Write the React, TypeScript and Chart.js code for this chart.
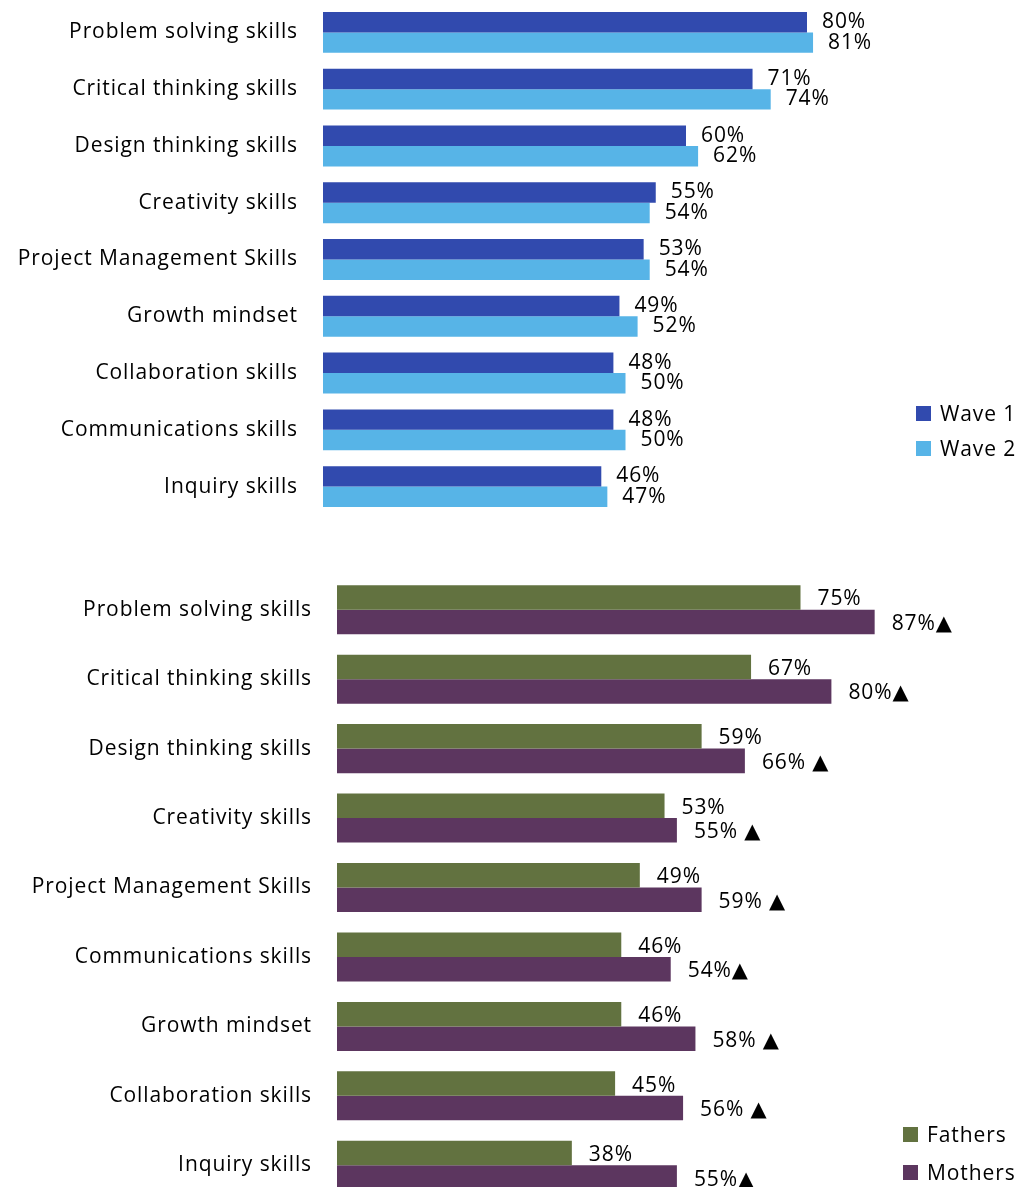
import React, { useEffect, useRef } from "react";
import { Chart, registerables } from "chart.js";
Chart.register(...registerables);

const FONT = "'Open Sans', 'DejaVu Sans', sans-serif";
const FONT_SIZE = 21;
const LETTER_SPACING = "0.9px";

const waveCategories = [
  "Problem solving skills",
  "Critical thinking skills",
  "Design thinking skills",
  "Creativity skills",
  "Project Management Skills",
  "Growth mindset",
  "Collaboration skills",
  "Communications skills",
  "Inquiry skills",
];
const wave1Values = [80, 71, 60, 55, 53, 49, 48, 48, 46];
const wave2Values = [81, 74, 62, 54, 54, 52, 50, 50, 47];

const parentCategories = [
  "Problem solving skills",
  "Critical thinking skills",
  "Design thinking skills",
  "Creativity skills",
  "Project Management Skills",
  "Communications skills",
  "Growth mindset",
  "Collaboration skills",
  "Inquiry skills",
];
const fathersValues = [75, 67, 59, 53, 49, 46, 46, 45, 38];
const mothersValues = [87, 80, 66, 55, 59, 54, 58, 56, 55];
const mothersMarks = ["▲", "▲", " ▲", " ▲", " ▲", "▲", " ▲", " ▲", "▲"];

const COLORS = {
  wave1: "#314AAE",
  wave2: "#57B4E7",
  fathers: "#627240",
  mothers: "#5C365F",
};

const spacingPlugin = {
  id: "letterSpacing",
  beforeUpdate(chart: any) {
    (chart.ctx as any).letterSpacing = LETTER_SPACING;
  },
  beforeDraw(chart: any) {
    (chart.ctx as any).letterSpacing = LETTER_SPACING;
  },
};

const labelPlugin = {
  id: "valueLabels",
  afterDatasetsDraw(chart: any, _args: any, opts: any) {
    const ctx = chart.ctx;
    ctx.save();
    (ctx as any).letterSpacing = LETTER_SPACING;
    ctx.font = `${opts.size}px ${FONT}`;
    ctx.fillStyle = "#000";
    ctx.textBaseline = "middle";
    ctx.textAlign = "left";
    chart.data.datasets.forEach((ds: any, di: number) => {
      const meta = chart.getDatasetMeta(di);
      meta.data.forEach((el: any, i: number) => {
        const v = ds.data[i];
        const suffix = (opts.suffixes && opts.suffixes[di] && opts.suffixes[di][i]) || "";
        const text = `${v}%${suffix}`;
        const w = ctx.measureText(text).width;
        let x = el.x + opts.offset;
        if (opts.maxRight && x + w > opts.maxRight) x = Math.max(el.x + 2, opts.maxRight - w);
        ctx.fillText(text, x, el.y + (opts.dy || 0));
      });
    });
    ctx.restore();
  },
};

function makeChart(
  canvas: HTMLCanvasElement,
  labels: string[],
  datasets: any[],
  cfg: { left: number; gap: number; right: number; top: number; bottom: number; catPct: number; labelOpts: any }
) {
  return new Chart(canvas, {
    type: "bar",
    data: { labels, datasets },
    plugins: [spacingPlugin as any, labelPlugin as any],
    options: {
      indexAxis: "y",
      responsive: false,
      maintainAspectRatio: false,
      animation: false,
      layout: { padding: { left: 0, right: cfg.right, top: cfg.top, bottom: cfg.bottom } },
      datasets: { bar: { categoryPercentage: cfg.catPct, barPercentage: 1 } } as any,
      scales: {
        x: { display: false, min: 0, max: 100 },
        y: {
          grid: { display: false, drawTicks: false },
          border: { display: false },
          ticks: { font: { family: FONT, size: FONT_SIZE }, color: "#000", padding: cfg.gap, autoSkip: false },
          afterFit(s: any) {
            s.width = cfg.left;
            s.paddingTop = 0;
            s.paddingBottom = 0;
          },
        },
      },
      plugins: {
        legend: { display: false },
        tooltip: { enabled: false },
        valueLabels: cfg.labelOpts,
      } as any,
    },
  });
}

function Legend({ items, x, ys }: { items: { label: string; color: string }[]; x: number; ys: number[] }) {
  return (
    <>
      {items.map((it, i) => (
        <div
          key={it.label}
          style={{
            position: "absolute",
            left: x,
            top: ys[i] - 14,
            height: 28,
            display: "flex",
            alignItems: "center",
            fontFamily: FONT,
            fontSize: FONT_SIZE,
            letterSpacing: LETTER_SPACING,
            color: "#000",
            whiteSpace: "nowrap",
          }}
        >
          <span style={{ display: "inline-block", width: 15, height: 15, background: it.color, marginRight: 9 }} />
          {it.label}
        </div>
      ))}
    </>
  );
}

export default function App() {
  const topRef = useRef<HTMLCanvasElement>(null);
  const botRef = useRef<HTMLCanvasElement>(null);

  useEffect(() => {
    const c1 = makeChart(
      topRef.current!,
      waveCategories,
      [
        { label: "Wave 1", data: wave1Values, backgroundColor: COLORS.wave1 },
        { label: "Wave 2", data: wave2Values, backgroundColor: COLORS.wave2 },
      ],
      { left: 323, gap: 25, right: 98, top: 4, bottom: 5, catPct: 0.72, labelOpts: { size: FONT_SIZE, offset: 15, dy: 0 } }
    );
    const c2 = makeChart(
      botRef.current!,
      parentCategories,
      [
        { label: "Fathers", data: fathersValues, backgroundColor: COLORS.fathers },
        { label: "Mothers", data: mothersValues, backgroundColor: COLORS.mothers },
      ],
      {
        left: 337,
        gap: 25,
        right: 71,
        top: 35,
        bottom: 10,
        catPct: 0.706,
        labelOpts: { size: FONT_SIZE, offset: 17, dy: 2, maxRight: 962, suffixes: [[], mothersMarks] },
      }
    );
    return () => {
      c1.destroy();
      c2.destroy();
    };
  }, []);

  return (
    <div
      style={{
        position: "absolute",
        left: 0,
        top: 0,
        width: 1026,
        height: 1187,
        overflow: "hidden",
        background: "#fff",
      }}
    >
      <canvas ref={topRef} width={1026} height={520} style={{ position: "absolute", left: 0, top: 0, display: "block" }} />
      <canvas ref={botRef} width={1026} height={670} style={{ position: "absolute", left: 0, top: 540, display: "block" }} />
      <Legend
        items={[
          { label: "Wave 1", color: COLORS.wave1 },
          { label: "Wave 2", color: COLORS.wave2 },
        ]}
        x={916}
        ys={[413, 448]}
      />
      <Legend
        items={[
          { label: "Fathers", color: COLORS.fathers },
          { label: "Mothers", color: COLORS.mothers },
        ]}
        x={903}
        ys={[1134, 1172]}
      />
    </div>
  );
}
